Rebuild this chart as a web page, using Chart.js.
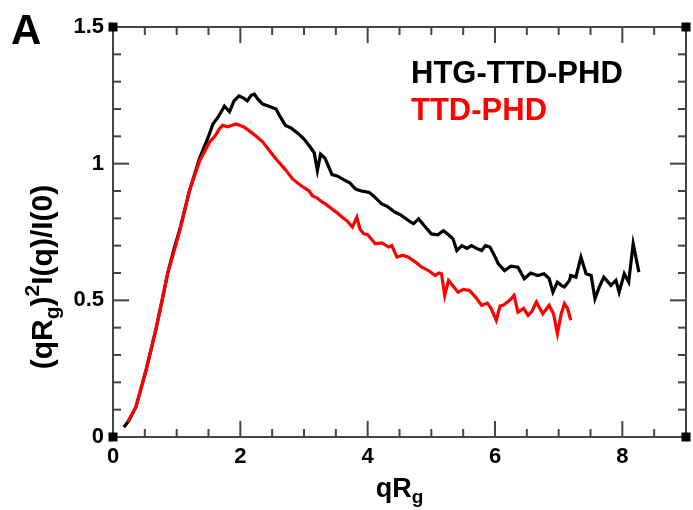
<!DOCTYPE html>
<html>
<head>
<meta charset="utf-8">
<script src="https://cdn.jsdelivr.net/npm/chart.js@4/dist/chart.umd.min.js"></script>
<style>
  html, body { margin: 0; padding: 0; background: #fff; }
  #c { display: block; }
</style>
</head>
<body>
<canvas id="c" width="693" height="510"></canvas>
<script>
// ---- data ----
const seriesNames = ["HTG-TTD-PHD", "TTD-PHD"];
const seriesColors = ["#000000", "#ff0000"];

const blackX = [0.17,0.25,0.36,0.52,0.68,0.78,0.86,0.96,1.05,1.2,1.36,1.5,1.57,1.65,1.75,1.83,1.9,1.98,2.05,2.11,2.17,2.22,2.28,2.35,2.45,2.56,2.63,2.71,2.8,2.92,3.0,3.10,3.16,3.21,3.26,3.33,3.44,3.52,3.65,3.72,3.81,3.9,4.02,4.1,4.22,4.3,4.43,4.5,4.64,4.72,4.80,4.9,5.0,5.1,5.19,5.27,5.34,5.4,5.48,5.56,5.63,5.71,5.79,5.85,5.92,6.0,6.05,6.15,6.25,6.36,6.46,6.56,6.67,6.77,6.85,6.91,6.98,7.04,7.09,7.17,7.19,7.27,7.35,7.43,7.51,7.57,7.64,7.71,7.82,7.9,7.95,8.03,8.1,8.17,8.26];
const blackY = [0.036,0.06,0.11,0.245,0.40,0.51,0.60,0.69,0.76,0.90,1.02,1.10,1.145,1.17,1.21,1.19,1.23,1.248,1.24,1.23,1.25,1.254,1.235,1.218,1.21,1.20,1.17,1.14,1.13,1.108,1.09,1.06,1.04,0.975,1.035,1.02,0.96,0.955,0.938,0.93,0.907,0.90,0.895,0.88,0.853,0.845,0.822,0.815,0.792,0.78,0.798,0.77,0.743,0.74,0.755,0.74,0.725,0.682,0.70,0.69,0.70,0.69,0.682,0.70,0.695,0.66,0.634,0.609,0.625,0.621,0.579,0.60,0.591,0.597,0.58,0.53,0.567,0.555,0.549,0.573,0.591,0.585,0.658,0.597,0.591,0.506,0.55,0.585,0.555,0.573,0.53,0.597,0.567,0.707,0.603];

const redX = [0.23,0.36,0.52,0.68,0.78,0.86,0.96,1.05,1.2,1.36,1.52,1.6,1.67,1.72,1.8,1.93,2.05,2.14,2.25,2.35,2.45,2.56,2.7,2.82,2.95,3.08,3.13,3.2,3.29,3.35,3.44,3.52,3.6,3.68,3.76,3.83,3.88,3.94,4.0,4.12,4.22,4.33,4.38,4.46,4.55,4.64,4.75,4.85,4.95,5.06,5.12,5.16,5.21,5.27,5.35,5.42,5.5,5.6,5.7,5.79,5.88,5.94,6.02,6.08,6.13,6.23,6.3,6.36,6.45,6.52,6.58,6.65,6.75,6.85,6.92,6.98,7.04,7.09,7.14,7.19];
const redY = [0.055,0.11,0.245,0.40,0.51,0.60,0.68,0.755,0.90,1.01,1.08,1.10,1.127,1.14,1.135,1.145,1.135,1.12,1.10,1.08,1.05,1.017,0.98,0.944,0.92,0.90,0.883,0.875,0.859,0.85,0.834,0.82,0.804,0.79,0.768,0.804,0.76,0.743,0.74,0.707,0.71,0.695,0.70,0.658,0.665,0.658,0.64,0.621,0.61,0.591,0.60,0.597,0.518,0.573,0.55,0.53,0.54,0.536,0.51,0.482,0.49,0.47,0.427,0.48,0.482,0.50,0.518,0.457,0.47,0.445,0.46,0.494,0.451,0.482,0.45,0.378,0.45,0.488,0.47,0.427];

const xMajorLabels = [0, 2, 4, 6, 8];
const yMajorLabels = [0, 0.5, 1, 1.5];
const xTickStep = 0.5;
const yTickStep = 0.1;

// ---- helpers ----
const FONT = '"Liberation Sans", Arial, Helvetica, sans-serif';
function pts(xs, ys) { return xs.map((x, i) => ({ x: x, y: ys[i] })); }
function isMajor(v, list) { return list.some(m => Math.abs(m - v) < 1e-6); }
function tickValues(min, max, step) {
  const out = [];
  const n = Math.round((max - min) / step);
  for (let i = 0; i <= n; i++) out.push(Math.round((min + i * step) * 1000) / 1000);
  return out;
}

const framePlugin = {
  id: 'frame',
  afterDraw(chart) {
    const ctx = chart.ctx;
    const xs = chart.scales.x, ys = chart.scales.y;
    const L = chart.chartArea.left, R = chart.chartArea.right, T = chart.chartArea.top, B = chart.chartArea.bottom;
    ctx.save();
    ctx.strokeStyle = '#444';
    ctx.lineWidth = 2;
    ctx.strokeRect(L, T, R - L, B - T);

    // inward tick marks on all four sides
    const xt = tickValues(xs.min, xs.max, xTickStep);
    const yt = tickValues(ys.min, ys.max, yTickStep);
    ctx.lineWidth = 2;
    ctx.strokeStyle = '#444';
    for (const v of xt) {
      const p = xs.getPixelForValue(v);
      if (!(p > L + 2 && p < R - 2)) continue;
      const len = isMajor(v, xMajorLabels) ? 16 : 8;
      ctx.beginPath(); ctx.moveTo(p, B); ctx.lineTo(p, B - len); ctx.stroke();
      ctx.beginPath(); ctx.moveTo(p, T); ctx.lineTo(p, T + len); ctx.stroke();
    }
    for (const v of yt) {
      const p = ys.getPixelForValue(v);
      if (!(p > T + 2 && p < B - 2)) continue;
      const len = isMajor(v, yMajorLabels) ? 16 : 8;
      ctx.beginPath(); ctx.moveTo(L, p); ctx.lineTo(L + len, p); ctx.stroke();
      ctx.beginPath(); ctx.moveTo(R, p); ctx.lineTo(R - len, p); ctx.stroke();
    }
    // corner markers
    ctx.fillStyle = '#000';
    [[L, T], [R, T], [L, B], [R, B]].forEach(([x, y]) => ctx.fillRect(x - 4.5, y - 4.5, 9, 9));

    // panel letter
    ctx.fillStyle = '#000';
    ctx.textBaseline = 'alphabetic';
    ctx.textAlign = 'left';
    ctx.font = 'bold 42px ' + FONT;
    ctx.fillText('A', 11, 44);

    // legend text
    ctx.font = 'bold 31px ' + FONT;
    ctx.fillStyle = seriesColors[0];
    ctx.fillText(seriesNames[0], 411, 83);
    ctx.fillStyle = seriesColors[1];
    ctx.fillText(seriesNames[1], 411, 120);

    // x axis title: qR_g
    const big = 'bold 27px ' + FONT, small = 'bold 19px ' + FONT;
    ctx.fillStyle = '#000';
    ctx.font = big;
    const w1 = ctx.measureText('qR').width;
    ctx.font = small;
    const w2 = ctx.measureText('g').width;
    const cx = (L + R) / 2;
    let x0 = cx - (w1 + w2) / 2;
    ctx.font = big; ctx.fillText('qR', x0, 497);
    ctx.font = small; ctx.fillText('g', x0 + w1, 503);

    // y axis title: (qR_g)^2 I(q)/I(0)
    const ybig = 'bold 30px ' + FONT, ysmall = 'bold 21px ' + FONT;
    const segs = [
      { t: '(qR', f: ybig, dy: 0 },
      { t: 'g', f: ysmall, dy: 7 },
      { t: ')', f: ybig, dy: 0 },
      { t: '2', f: ysmall, dy: -13 },
      { t: 'I(q)/I(0)', f: ybig, dy: 0 }
    ];
    let total = 0;
    segs.forEach(s => { ctx.font = s.f; s.w = ctx.measureText(s.t).width; total += s.w; });
    ctx.translate(52, 277);
    ctx.rotate(-Math.PI / 2);
    let x = -total / 2;
    segs.forEach(s => { ctx.font = s.f; ctx.fillText(s.t, x, s.dy); x += s.w; });
    ctx.restore();
  }
};

new Chart(document.getElementById('c'), {
  type: 'line',
  data: {
    datasets: [
      { label: seriesNames[0], data: pts(blackX, blackY), borderColor: seriesColors[0], backgroundColor: seriesColors[0], borderWidth: 3.2, pointRadius: 0, tension: 0, order: 2 },
      { label: seriesNames[1], data: pts(redX, redY), borderColor: seriesColors[1], backgroundColor: seriesColors[1], borderWidth: 3.2, pointRadius: 0, tension: 0, order: 1 }
    ]
  },
  options: {
    responsive: false,
    animation: false,
    layout: { padding: { left: 0, top: 27, right: 6, bottom: 0 } },
    plugins: { legend: { display: false }, tooltip: { enabled: false } },
    scales: {
      x: {
        type: 'linear', min: 0, max: 9,
        grid: { display: false, drawTicks: false },
        border: { display: false },
        ticks: {
          stepSize: 0.5, autoSkip: false, maxRotation: 0, padding: 7,
          color: '#000', font: { family: FONT, size: 22, weight: 'bold' },
          callback: v => isMajor(v, xMajorLabels) ? String(Math.round(v)) : ''
        },
        afterFit: s => { s.height = 73; }
      },
      y: {
        type: 'linear', min: 0, max: 1.5,
        grid: { display: false, drawTicks: false },
        border: { display: false },
        ticks: {
          stepSize: 0.1, autoSkip: false, padding: 9,
          color: '#000', font: { family: FONT, size: 22, weight: 'bold' },
          callback: v => isMajor(v, yMajorLabels) ? String(Math.round(v * 10) / 10) : ''
        },
        afterFit: s => { s.width = 113; }
      }
    }
  },
  plugins: [framePlugin]
});
</script>
</body>
</html>
